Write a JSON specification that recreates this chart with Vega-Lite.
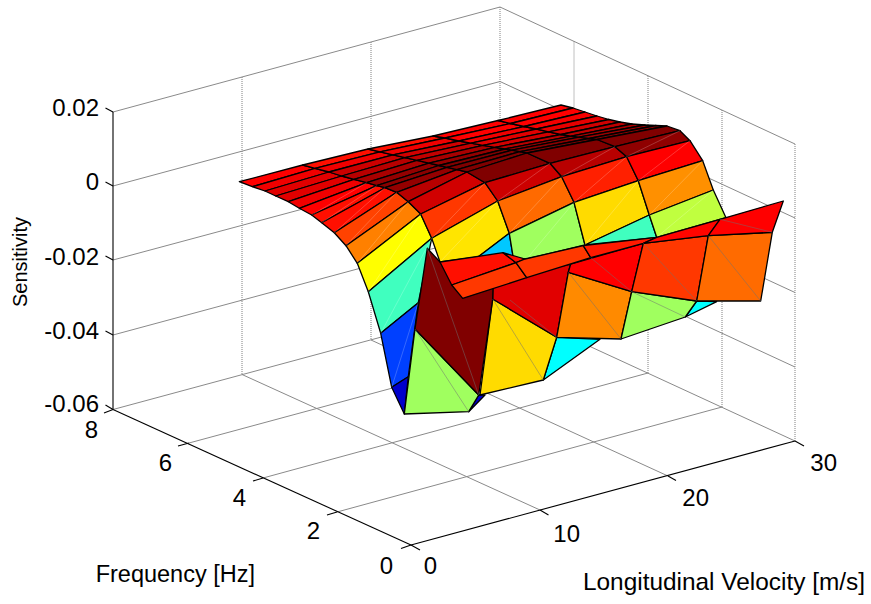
{"$schema":"https://vega.github.io/schema/vega-lite/v6.json","width":871,"height":604,"padding":0,"autosize":{"type":"fit","contains":"padding"},"config":{"view":{"stroke":null},"font":"Liberation Sans"},
"datasets":{
"wallGrid":[{"x":113,"y":112,"x2":500,"y2":7},{"x":113,"y":186,"x2":500,"y2":81.5},{"x":113,"y":260,"x2":500,"y2":156},{"x":113,"y":335,"x2":500,"y2":230.5},{"x":113,"y":409.5,"x2":500,"y2":305},{"x":500,"y":7,"x2":795,"y2":144},{"x":500,"y":81.5,"x2":795,"y2":218},{"x":500,"y":156,"x2":795,"y2":292.5},{"x":500,"y":230.5,"x2":795,"y2":367},{"x":500,"y":305,"x2":795,"y2":441},{"x":189,"y":443,"x2":574,"y2":339},{"x":263,"y":478,"x2":648,"y2":373},{"x":337,"y":512,"x2":722,"y2":407},{"x":242,"y":374.5,"x2":540,"y2":510},{"x":371,"y":340,"x2":668,"y2":476}],
"verticals":[{"x":242,"y":77,"x2":242,"y2":374.5},{"x":371,"y":42,"x2":371,"y2":340},{"x":500,"y":7,"x2":500,"y2":305},{"x":574,"y":41.5,"x2":574,"y2":339},{"x":648,"y":76,"x2":648,"y2":373},{"x":722,"y":110,"x2":722,"y2":407},{"x":795,"y":144,"x2":795,"y2":441}],
"axes":[{"x":113,"y":112,"x2":113,"y2":409.5},{"x":113,"y":409.5,"x2":411,"y2":545},{"x":411,"y":545,"x2":795,"y2":441},{"x":113,"y":112,"x2":105.5,"y2":108},{"x":113,"y":186,"x2":105.5,"y2":182},{"x":113,"y":260,"x2":105.5,"y2":256},{"x":113,"y":335,"x2":105.5,"y2":331},{"x":113,"y":409.5,"x2":105.5,"y2":405},{"x":113,"y":409.5,"x2":104,"y2":413},{"x":189,"y":443,"x2":178,"y2":446},{"x":263,"y":478,"x2":253,"y2":481},{"x":337,"y":512,"x2":327,"y2":515},{"x":411,"y":545,"x2":401,"y2":548.5},{"x":411,"y":545,"x2":420,"y2":550},{"x":540,"y":510,"x2":548.5,"y2":515},{"x":668,"y":476,"x2":676,"y2":480.5},{"x":795,"y":441,"x2":804,"y2":446}],
"labels":[{"t":"0.02","x":99,"y":116},{"t":"0","x":99,"y":190},{"t":"-0.02","x":99,"y":264.5},{"t":"-0.04","x":99,"y":339},{"t":"-0.06","x":99,"y":412},{"t":"8","x":98,"y":438},{"t":"6","x":172,"y":471},{"t":"4","x":246,"y":505.5},{"t":"2","x":320,"y":539},{"t":"0","x":393,"y":574},{"t":"0","x":437,"y":574},{"t":"10","x":580,"y":541.5},{"t":"20","x":709,"y":506},{"t":"30","x":837,"y":470.5}],
"ftitle":[{"t":"Frequency [Hz]","x":255,"y":582}],
"vtitle":[{"t":"Longitudinal Velocity [m/s]","x":865,"y":590}],
"ztitle":[{"t":"Sensitivity","x":27,"y":262}],
"backCells":[
{"c":1,"k":0,"x":239.3,"y":181.7,"l":0.875},{"c":1,"k":1,"x":302.7,"y":165,"l":0.875},{"c":1,"k":2,"x":315,"y":168.3,"l":0.875},{"c":1,"k":3,"x":252.3,"y":186.7,"l":0.875},
{"c":2,"k":0,"x":252.3,"y":186.7,"l":0.89},{"c":2,"k":1,"x":315,"y":168.3,"l":0.89},{"c":2,"k":2,"x":329,"y":172,"l":0.89},{"c":2,"k":3,"x":265,"y":191,"l":0.89},
{"c":3,"k":0,"x":265,"y":191,"l":0.905},{"c":3,"k":1,"x":329,"y":172,"l":0.905},{"c":3,"k":2,"x":341.7,"y":176,"l":0.905},{"c":3,"k":3,"x":275.7,"y":196,"l":0.905},
{"c":4,"k":0,"x":275.7,"y":196,"l":0.905},{"c":4,"k":1,"x":341.7,"y":176,"l":0.905},{"c":4,"k":2,"x":354,"y":179.3,"l":0.905},{"c":4,"k":3,"x":288.3,"y":201.7,"l":0.905},
{"c":5,"k":0,"x":288.3,"y":201.7,"l":0.89},{"c":5,"k":1,"x":354,"y":179.3,"l":0.89},{"c":5,"k":2,"x":366.7,"y":182.7,"l":0.89},{"c":5,"k":3,"x":299.3,"y":208.3,"l":0.89},
{"c":6,"k":0,"x":299.3,"y":208.3,"l":0.875},{"c":6,"k":1,"x":366.7,"y":182.7,"l":0.875},{"c":6,"k":2,"x":376.7,"y":185.7,"l":0.875},{"c":6,"k":3,"x":311.7,"y":215,"l":0.875},
{"c":7,"k":0,"x":311.7,"y":215,"l":0.86},{"c":7,"k":1,"x":376.7,"y":185.7,"l":0.86},{"c":7,"k":2,"x":385,"y":187.7,"l":0.86},{"c":7,"k":3,"x":321.7,"y":222.7,"l":0.86},
{"c":8,"k":0,"x":321.7,"y":222.7,"l":0.86},{"c":8,"k":1,"x":385,"y":187.7,"l":0.86},{"c":8,"k":2,"x":396.7,"y":192.3,"l":0.86},{"c":8,"k":3,"x":334.3,"y":232.7,"l":0.86},
{"c":9,"k":0,"x":334.3,"y":232.7,"l":0.81},{"c":9,"k":1,"x":396.7,"y":192.3,"l":0.81},{"c":9,"k":2,"x":408.3,"y":201.7,"l":0.81},{"c":9,"k":3,"x":346,"y":245.7,"l":0.81},
{"c":10,"k":0,"x":346,"y":245.7,"l":0.75},{"c":10,"k":1,"x":408.3,"y":201.7,"l":0.75},{"c":10,"k":2,"x":420.7,"y":214,"l":0.75},{"c":10,"k":3,"x":357.3,"y":263.3,"l":0.75},
{"c":11,"k":0,"x":357.3,"y":263.3,"l":0.625},{"c":11,"k":1,"x":420.7,"y":214,"l":0.625},{"c":11,"k":2,"x":431.7,"y":238.3,"l":0.625},{"c":11,"k":3,"x":368.3,"y":291.7,"l":0.625},
{"c":12,"k":0,"x":368.3,"y":291.7,"l":0.438},{"c":12,"k":1,"x":431.7,"y":238.3,"l":0.438},{"c":12,"k":2,"x":418.3,"y":302.7,"l":0.438},{"c":12,"k":3,"x":380.7,"y":333.3,"l":0.438},
{"c":13,"k":0,"x":380.7,"y":333.3,"l":0.188},{"c":13,"k":1,"x":418.3,"y":302.7,"l":0.188},{"c":13,"k":2,"x":408.3,"y":376.7,"l":0.188},{"c":13,"k":3,"x":391.7,"y":387.3,"l":0.188},
{"c":14,"k":0,"x":391.7,"y":387.3,"l":0.075},{"c":14,"k":1,"x":408.3,"y":376.7,"l":0.075},{"c":14,"k":2,"x":404.3,"y":414,"l":0.075},
{"c":15,"k":0,"x":302.7,"y":165,"l":0.86},{"c":15,"k":1,"x":368,"y":149,"l":0.86},{"c":15,"k":2,"x":380,"y":151.8,"l":0.86},{"c":15,"k":3,"x":315,"y":168.3,"l":0.86},
{"c":16,"k":0,"x":315,"y":168.3,"l":0.89},{"c":16,"k":1,"x":380,"y":151.8,"l":0.89},{"c":16,"k":2,"x":393,"y":154.8,"l":0.89},{"c":16,"k":3,"x":329,"y":172,"l":0.89},
{"c":17,"k":0,"x":329,"y":172,"l":0.925},{"c":17,"k":1,"x":393,"y":154.8,"l":0.925},{"c":17,"k":2,"x":405,"y":157.6,"l":0.925},{"c":17,"k":3,"x":341.7,"y":176,"l":0.925},
{"c":18,"k":0,"x":341.7,"y":176,"l":0.945},{"c":18,"k":1,"x":405,"y":157.6,"l":0.945},{"c":18,"k":2,"x":417,"y":160.4,"l":0.945},{"c":18,"k":3,"x":354,"y":179.3,"l":0.945},
{"c":19,"k":0,"x":354,"y":179.3,"l":0.96},{"c":19,"k":1,"x":417,"y":160.4,"l":0.96},{"c":19,"k":2,"x":429,"y":163.2,"l":0.96},{"c":19,"k":3,"x":366.7,"y":182.7,"l":0.96},
{"c":20,"k":0,"x":366.7,"y":182.7,"l":0.98},{"c":20,"k":1,"x":429,"y":163.2,"l":0.98},{"c":20,"k":2,"x":439,"y":165.5,"l":0.98},{"c":20,"k":3,"x":376.7,"y":185.7,"l":0.98},
{"c":21,"k":0,"x":376.7,"y":185.7,"l":0.99},{"c":21,"k":1,"x":439,"y":165.5,"l":0.99},{"c":21,"k":2,"x":447,"y":167.3,"l":0.99},{"c":21,"k":3,"x":385,"y":187.7,"l":0.99},
{"c":22,"k":0,"x":385,"y":187.7,"l":0.98},{"c":22,"k":1,"x":447,"y":167.3,"l":0.98},{"c":22,"k":2,"x":457,"y":169.7,"l":0.98},{"c":22,"k":3,"x":396.7,"y":192.3,"l":0.98},
{"c":23,"k":0,"x":396.7,"y":192.3,"l":0.945},{"c":23,"k":1,"x":457,"y":169.7,"l":0.945},{"c":23,"k":2,"x":467,"y":172,"l":0.945},{"c":23,"k":3,"x":408.3,"y":201.7,"l":0.945},
{"c":24,"k":0,"x":408.3,"y":201.7,"l":0.92},{"c":24,"k":1,"x":467,"y":172,"l":0.92},{"c":24,"k":2,"x":485,"y":182.7,"l":0.92},{"c":24,"k":3,"x":420.7,"y":214,"l":0.92},
{"c":25,"k":0,"x":420.7,"y":214,"l":0.82},{"c":25,"k":1,"x":485,"y":182.7,"l":0.82},{"c":25,"k":2,"x":497.7,"y":201,"l":0.82},{"c":25,"k":3,"x":431.7,"y":238.3,"l":0.82},
{"c":26,"k":0,"x":431.7,"y":238.3,"l":0.65},{"c":26,"k":1,"x":497.7,"y":201,"l":0.65},{"c":26,"k":2,"x":509.3,"y":233.3,"l":0.65},{"c":26,"k":3,"x":478,"y":257,"l":0.65},{"c":26,"k":4,"x":440,"y":262,"l":0.65},
{"c":27,"k":0,"x":478,"y":257,"l":0.321},{"c":27,"k":1,"x":509.3,"y":233.3,"l":0.321},{"c":27,"k":2,"x":513.3,"y":258,"l":0.321},
{"c":28,"k":0,"x":368,"y":149,"l":0.86},{"c":28,"k":1,"x":433,"y":136,"l":0.86},{"c":28,"k":2,"x":445,"y":138,"l":0.86},{"c":28,"k":3,"x":380,"y":151.8,"l":0.86},
{"c":29,"k":0,"x":380,"y":151.8,"l":0.89},{"c":29,"k":1,"x":445,"y":138,"l":0.89},{"c":29,"k":2,"x":459,"y":141,"l":0.89},{"c":29,"k":3,"x":393,"y":154.8,"l":0.89},
{"c":30,"k":0,"x":393,"y":154.8,"l":0.92},{"c":30,"k":1,"x":459,"y":141,"l":0.92},{"c":30,"k":2,"x":471,"y":143.2,"l":0.92},{"c":30,"k":3,"x":405,"y":157.6,"l":0.92},
{"c":31,"k":0,"x":405,"y":157.6,"l":0.935},{"c":31,"k":1,"x":471,"y":143.2,"l":0.935},{"c":31,"k":2,"x":483,"y":145.4,"l":0.935},{"c":31,"k":3,"x":417,"y":160.4,"l":0.935},
{"c":32,"k":0,"x":417,"y":160.4,"l":0.96},{"c":32,"k":1,"x":483,"y":145.4,"l":0.96},{"c":32,"k":2,"x":495,"y":147.3,"l":0.96},{"c":32,"k":3,"x":429,"y":163.2,"l":0.96},
{"c":33,"k":0,"x":429,"y":163.2,"l":0.98},{"c":33,"k":1,"x":495,"y":147.3,"l":0.98},{"c":33,"k":2,"x":505,"y":149,"l":0.98},{"c":33,"k":3,"x":439,"y":165.5,"l":0.98},
{"c":34,"k":0,"x":439,"y":165.5,"l":1},{"c":34,"k":1,"x":505,"y":149,"l":1},{"c":34,"k":2,"x":512,"y":150.2,"l":1},{"c":34,"k":3,"x":447,"y":167.3,"l":1},
{"c":35,"k":0,"x":447,"y":167.3,"l":1},{"c":35,"k":1,"x":512,"y":150.2,"l":1},{"c":35,"k":2,"x":520,"y":151.6,"l":1},{"c":35,"k":3,"x":457,"y":169.7,"l":1},
{"c":36,"k":0,"x":457,"y":169.7,"l":1},{"c":36,"k":1,"x":520,"y":151.6,"l":1},{"c":36,"k":2,"x":527,"y":153,"l":1},{"c":36,"k":3,"x":467,"y":172,"l":1},
{"c":37,"k":0,"x":467,"y":172,"l":1},{"c":37,"k":1,"x":527,"y":153,"l":1},{"c":37,"k":2,"x":550,"y":163.3,"l":1},{"c":37,"k":3,"x":485,"y":182.7,"l":1},
{"c":38,"k":0,"x":485,"y":182.7,"l":0.925},{"c":38,"k":1,"x":550,"y":163.3,"l":0.925},{"c":38,"k":2,"x":561.7,"y":176.7,"l":0.925},{"c":38,"k":3,"x":497.7,"y":201,"l":0.925},
{"c":39,"k":0,"x":497.7,"y":201,"l":0.771},{"c":39,"k":1,"x":561.7,"y":176.7,"l":0.771},{"c":39,"k":2,"x":574,"y":202.3,"l":0.771},{"c":39,"k":3,"x":509.3,"y":233.3,"l":0.771},
{"c":40,"k":0,"x":509.3,"y":233.3,"l":0.532},{"c":40,"k":1,"x":574,"y":202.3,"l":0.532},{"c":40,"k":2,"x":585,"y":245,"l":0.532},{"c":40,"k":3,"x":526.7,"y":259,"l":0.532},{"c":40,"k":4,"x":513.3,"y":258,"l":0.532},
{"c":41,"k":0,"x":433,"y":136,"l":0.875},{"c":41,"k":1,"x":498,"y":120.5,"l":0.875},{"c":41,"k":2,"x":510.5,"y":123.5,"l":0.875},{"c":41,"k":3,"x":445,"y":138,"l":0.875},
{"c":42,"k":0,"x":445,"y":138,"l":0.875},{"c":42,"k":1,"x":510.5,"y":123.5,"l":0.875},{"c":42,"k":2,"x":524,"y":126.5,"l":0.875},{"c":42,"k":3,"x":459,"y":141,"l":0.875},
{"c":43,"k":0,"x":459,"y":141,"l":0.89},{"c":43,"k":1,"x":524,"y":126.5,"l":0.89},{"c":43,"k":2,"x":536.5,"y":129,"l":0.89},{"c":43,"k":3,"x":471,"y":143.2,"l":0.89},
{"c":44,"k":0,"x":471,"y":143.2,"l":0.905},{"c":44,"k":1,"x":536.5,"y":129,"l":0.905},{"c":44,"k":2,"x":548.5,"y":131.8,"l":0.905},{"c":44,"k":3,"x":483,"y":145.4,"l":0.905},
{"c":45,"k":0,"x":483,"y":145.4,"l":0.92},{"c":45,"k":1,"x":548.5,"y":131.8,"l":0.92},{"c":45,"k":2,"x":561,"y":134.5,"l":0.92},{"c":45,"k":3,"x":495,"y":147.3,"l":0.92},
{"c":46,"k":0,"x":495,"y":147.3,"l":0.945},{"c":46,"k":1,"x":561,"y":134.5,"l":0.945},{"c":46,"k":2,"x":571,"y":136.2,"l":0.945},{"c":46,"k":3,"x":505,"y":149,"l":0.945},
{"c":47,"k":0,"x":505,"y":149,"l":0.98},{"c":47,"k":1,"x":571,"y":136.2,"l":0.98},{"c":47,"k":2,"x":579,"y":137.2,"l":0.98},{"c":47,"k":3,"x":512,"y":150.2,"l":0.98},
{"c":48,"k":0,"x":512,"y":150.2,"l":0.99},{"c":48,"k":1,"x":579,"y":137.2,"l":0.99},{"c":48,"k":2,"x":589,"y":138.5,"l":0.99},{"c":48,"k":3,"x":520,"y":151.6,"l":0.99},
{"c":49,"k":0,"x":520,"y":151.6,"l":1},{"c":49,"k":1,"x":589,"y":138.5,"l":1},{"c":49,"k":2,"x":597,"y":139.5,"l":1},{"c":49,"k":3,"x":527,"y":153,"l":1},
{"c":50,"k":0,"x":527,"y":153,"l":1},{"c":50,"k":1,"x":597,"y":139.5,"l":1},{"c":50,"k":2,"x":615,"y":146.7,"l":1},{"c":50,"k":3,"x":550,"y":163.3,"l":1},
{"c":51,"k":0,"x":550,"y":163.3,"l":0.945},{"c":51,"k":1,"x":615,"y":146.7,"l":0.945},{"c":51,"k":2,"x":626.7,"y":156.7,"l":0.945},{"c":51,"k":3,"x":561.7,"y":176.7,"l":0.945},
{"c":52,"k":0,"x":561.7,"y":176.7,"l":0.844},{"c":52,"k":1,"x":626.7,"y":156.7,"l":0.844},{"c":52,"k":2,"x":638.3,"y":180.7,"l":0.844},{"c":52,"k":3,"x":574,"y":202.3,"l":0.844},
{"c":53,"k":0,"x":574,"y":202.3,"l":0.66},{"c":53,"k":1,"x":638.3,"y":180.7,"l":0.66},{"c":53,"k":2,"x":649.3,"y":215,"l":0.66},{"c":53,"k":3,"x":585,"y":245,"l":0.66},
{"c":54,"k":0,"x":585,"y":245,"l":0.438},{"c":54,"k":1,"x":649.3,"y":215,"l":0.438},{"c":54,"k":2,"x":656.7,"y":237.3,"l":0.438},
{"c":55,"k":0,"x":498,"y":120.5,"l":0.875},{"c":55,"k":1,"x":561,"y":105,"l":0.875},{"c":55,"k":2,"x":573,"y":108,"l":0.875},{"c":55,"k":3,"x":510.5,"y":123.5,"l":0.875},
{"c":56,"k":0,"x":510.5,"y":123.5,"l":0.875},{"c":56,"k":1,"x":573,"y":108,"l":0.875},{"c":56,"k":2,"x":585,"y":112,"l":0.875},{"c":56,"k":3,"x":524,"y":126.5,"l":0.875},
{"c":57,"k":0,"x":524,"y":126.5,"l":0.885},{"c":57,"k":1,"x":585,"y":112,"l":0.885},{"c":57,"k":2,"x":597,"y":116,"l":0.885},{"c":57,"k":3,"x":536.5,"y":129,"l":0.885},
{"c":58,"k":0,"x":536.5,"y":129,"l":0.9},{"c":58,"k":1,"x":597,"y":116,"l":0.9},{"c":58,"k":2,"x":609,"y":119.5,"l":0.9},{"c":58,"k":3,"x":548.5,"y":131.8,"l":0.9},
{"c":59,"k":0,"x":548.5,"y":131.8,"l":0.92},{"c":59,"k":1,"x":609,"y":119.5,"l":0.92},{"c":59,"k":2,"x":620,"y":122,"l":0.92},{"c":59,"k":3,"x":561,"y":134.5,"l":0.92},
{"c":60,"k":0,"x":561,"y":134.5,"l":0.94},{"c":60,"k":1,"x":620,"y":122,"l":0.94},{"c":60,"k":2,"x":632,"y":124,"l":0.94},{"c":60,"k":3,"x":571,"y":136.2,"l":0.94},
{"c":61,"k":0,"x":571,"y":136.2,"l":0.96},{"c":61,"k":1,"x":632,"y":124,"l":0.96},{"c":61,"k":2,"x":645,"y":125,"l":0.96},{"c":61,"k":3,"x":579,"y":137.2,"l":0.96},
{"c":62,"k":0,"x":579,"y":137.2,"l":0.97},{"c":62,"k":1,"x":645,"y":125,"l":0.97},{"c":62,"k":2,"x":656,"y":125.5,"l":0.97},{"c":62,"k":3,"x":589,"y":138.5,"l":0.97},
{"c":63,"k":0,"x":589,"y":138.5,"l":0.985},{"c":63,"k":1,"x":656,"y":125.5,"l":0.985},{"c":63,"k":2,"x":667,"y":126,"l":0.985},{"c":63,"k":3,"x":597,"y":139.5,"l":0.985},
{"c":64,"k":0,"x":597,"y":139.5,"l":1},{"c":64,"k":1,"x":667,"y":126,"l":1},{"c":64,"k":2,"x":680,"y":130.7,"l":1},{"c":64,"k":3,"x":615,"y":146.7,"l":1},
{"c":65,"k":0,"x":615,"y":146.7,"l":0.985},{"c":65,"k":1,"x":680,"y":130.7,"l":0.985},{"c":65,"k":2,"x":690,"y":140.7,"l":0.985},{"c":65,"k":3,"x":626.7,"y":156.7,"l":0.985},
{"c":66,"k":0,"x":626.7,"y":156.7,"l":0.875},{"c":66,"k":1,"x":690,"y":140.7,"l":0.875},{"c":66,"k":2,"x":702.7,"y":160.7,"l":0.875},{"c":66,"k":3,"x":638.3,"y":180.7,"l":0.875},
{"c":67,"k":0,"x":638.3,"y":180.7,"l":0.734},{"c":67,"k":1,"x":702.7,"y":160.7,"l":0.734},{"c":67,"k":2,"x":713.3,"y":190,"l":0.734},{"c":67,"k":3,"x":649.3,"y":215,"l":0.734},
{"c":68,"k":0,"x":649.3,"y":215,"l":0.563},{"c":68,"k":1,"x":713.3,"y":190,"l":0.563},{"c":68,"k":2,"x":726,"y":217.7,"l":0.563},{"c":68,"k":3,"x":656.7,"y":237.3,"l":0.563}],
"backDiagonals":[{"x":357.3,"y":263.3,"x2":408.3,"y2":201.7},{"x":368.3,"y":291.7,"x2":420.7,"y2":214},{"x":380.7,"y":333.3,"x2":431.7,"y2":238.3},{"x":391.7,"y":387.3,"x2":418.3,"y2":302.7},{"x":346,"y":245.7,"x2":396.7,"y2":192.3},{"x":334.3,"y":232.7,"x2":385,"y2":187.7},{"x":321.7,"y":222.7,"x2":376.7,"y2":185.7},{"x":311.7,"y":215,"x2":366.7,"y2":182.7},{"x":431.7,"y":238.3,"x2":485,"y2":182.7},{"x":440,"y":262,"x2":497.7,"y2":201},{"x":509.3,"y":233.3,"x2":561.7,"y2":176.7},{"x":526.7,"y":259,"x2":574,"y2":202.3},{"x":497.7,"y":201,"x2":550,"y2":163.3},{"x":574,"y":202.3,"x2":626.7,"y2":156.7},{"x":585,"y":245,"x2":638.3,"y2":180.7},{"x":561.7,"y":176.7,"x2":615,"y2":146.7},{"x":638.3,"y":180.7,"x2":690,"y2":140.7},{"x":649.3,"y":215,"x2":702.7,"y2":160.7},{"x":656.7,"y":237.3,"x2":713.3,"y2":190},{"x":626.7,"y":156.7,"x2":680,"y2":130.7}],
"frontCells":[
{"c":101,"k":0,"x":468.7,"y":411.7,"l":0.075},{"c":101,"k":1,"x":478.7,"y":395,"l":0.075},{"c":101,"k":2,"x":485,"y":395,"l":0.075},
{"c":102,"k":0,"x":543.3,"y":380,"l":0.375},{"c":102,"k":1,"x":556.7,"y":337.3,"l":0.375},{"c":102,"k":2,"x":600,"y":339.3,"l":0.375},
{"c":103,"k":0,"x":685.3,"y":317,"l":0.375},{"c":103,"k":1,"x":696.7,"y":301,"l":0.375},{"c":103,"k":2,"x":716.7,"y":301.7,"l":0.375},
{"c":104,"k":0,"x":415,"y":329,"l":0.532},{"c":104,"k":1,"x":478.7,"y":395,"l":0.532},{"c":104,"k":2,"x":468.7,"y":411.7,"l":0.532},{"c":104,"k":3,"x":404.3,"y":414,"l":0.532},
{"c":105,"k":0,"x":492.7,"y":299,"l":0.66},{"c":105,"k":1,"x":556.7,"y":337.3,"l":0.66},{"c":105,"k":2,"x":543.3,"y":380,"l":0.66},{"c":105,"k":3,"x":480,"y":395,"l":0.66},
{"c":106,"k":0,"x":493,"y":282,"l":0.905},{"c":106,"k":1,"x":570.7,"y":264,"l":0.905},{"c":106,"k":2,"x":568.3,"y":272.3,"l":0.905},{"c":106,"k":3,"x":556.7,"y":337.3,"l":0.905},{"c":106,"k":4,"x":492.7,"y":299,"l":0.905},
{"c":107,"k":0,"x":427.3,"y":248.3,"l":1},{"c":107,"k":1,"x":415,"y":329,"l":1},{"c":107,"k":2,"x":478.7,"y":395,"l":1},{"c":107,"k":3,"x":492.7,"y":299,"l":1},{"c":107,"k":4,"x":493,"y":288,"l":1},{"c":107,"k":5,"x":440,"y":262,"l":1},
{"c":108,"k":0,"x":568.3,"y":272.3,"l":0.74},{"c":108,"k":1,"x":631.7,"y":291.7,"l":0.74},{"c":108,"k":2,"x":621,"y":339,"l":0.74},{"c":108,"k":3,"x":556.7,"y":337.3,"l":0.74},
{"c":109,"k":0,"x":631.7,"y":291.7,"l":0.532},{"c":109,"k":1,"x":696.7,"y":301,"l":0.532},{"c":109,"k":2,"x":685.3,"y":317,"l":0.532},{"c":109,"k":3,"x":621,"y":339,"l":0.532},
{"c":110,"k":0,"x":570.7,"y":264,"l":0.875},{"c":110,"k":1,"x":643.3,"y":243.3,"l":0.875},{"c":110,"k":2,"x":631.7,"y":291.7,"l":0.875},{"c":110,"k":3,"x":568.3,"y":272.3,"l":0.875},
{"c":111,"k":0,"x":643.3,"y":243.3,"l":0.82},{"c":111,"k":1,"x":708.3,"y":235.7,"l":0.82},{"c":111,"k":2,"x":696.7,"y":301,"l":0.82},{"c":111,"k":3,"x":631.7,"y":291.7,"l":0.82},
{"c":112,"k":0,"x":708.3,"y":235.7,"l":0.77},{"c":112,"k":1,"x":772.3,"y":232.3,"l":0.77},{"c":112,"k":2,"x":760.7,"y":301,"l":0.77},{"c":112,"k":3,"x":696.7,"y":301,"l":0.77},
{"c":113,"k":0,"x":440,"y":262,"l":0.86},{"c":113,"k":1,"x":503,"y":252.7,"l":0.86},{"c":113,"k":2,"x":516,"y":262.7,"l":0.86},{"c":113,"k":3,"x":451.7,"y":285,"l":0.86},
{"c":114,"k":0,"x":451.7,"y":285,"l":0.82},{"c":114,"k":1,"x":516,"y":262.7,"l":0.82},{"c":114,"k":2,"x":526.7,"y":277.7,"l":0.82},{"c":114,"k":3,"x":462.7,"y":298.3,"l":0.82},
{"c":115,"k":0,"x":503,"y":252.7,"l":0.86},{"c":115,"k":1,"x":525,"y":259,"l":0.86},{"c":115,"k":2,"x":516,"y":262.7,"l":0.86},
{"c":116,"k":0,"x":516,"y":262.7,"l":0.82},{"c":116,"k":1,"x":525,"y":259,"l":0.82},{"c":116,"k":2,"x":583.3,"y":245.7,"l":0.82},{"c":116,"k":3,"x":590.7,"y":257.7,"l":0.82},{"c":116,"k":4,"x":526.7,"y":277.7,"l":0.82},
{"c":117,"k":0,"x":583.3,"y":245.7,"l":0.85},{"c":117,"k":1,"x":656.7,"y":237.3,"l":0.85},{"c":117,"k":2,"x":643.3,"y":243.3,"l":0.85},{"c":117,"k":3,"x":590.7,"y":257.7,"l":0.85},
{"c":118,"k":0,"x":656.7,"y":237.3,"l":0.87},{"c":118,"k":1,"x":720,"y":219.3,"l":0.87},{"c":118,"k":2,"x":708.3,"y":235.7,"l":0.87},{"c":118,"k":3,"x":643.3,"y":243.3,"l":0.87},
{"c":119,"k":0,"x":720,"y":219.3,"l":0.875},{"c":119,"k":1,"x":783.3,"y":201,"l":0.875},{"c":119,"k":2,"x":772.3,"y":232.3,"l":0.875},{"c":119,"k":3,"x":708.3,"y":235.7,"l":0.875}],
"frontDiagonals":[{"x":415,"y":329,"x2":468.7,"y2":411.7},{"x":427.3,"y":248.3,"x2":478.7,"y2":395},{"x":492.7,"y":299,"x2":543.3,"y2":380},{"x":568.3,"y":272.3,"x2":621,"y2":339},{"x":631.7,"y":291.7,"x2":685.3,"y2":317},{"x":590.7,"y":257.7,"x2":631.7,"y2":291.7},{"x":643.3,"y":243.3,"x2":696.7,"y2":301},{"x":708.3,"y":235.7,"x2":760.7,"y2":301},{"x":720,"y":219.3,"x2":772.3,"y2":232.3},{"x":510,"y":300,"x2":556.7,"y2":337.3}]
},
"encoding":{"x":{"field":"x","type":"quantitative","scale":{"domain":[0,871]},"axis":null},"y":{"field":"y","type":"quantitative","scale":{"domain":[604,0]},"axis":null}},
"layer":[
{"data":{"name":"wallGrid"},"mark":{"type":"rule","stroke":"#8a8a8a","strokeWidth":1},"encoding":{"x2":{"field":"x2"},"y2":{"field":"y2"}}},
{"data":{"name":"verticals"},"mark":{"type":"rule","stroke":"#808080","strokeWidth":1,"strokeDash":[1,1]},"encoding":{"x2":{"field":"x2"},"y2":{"field":"y2"}}},
{"data":{"name":"axes"},"mark":{"type":"rule","stroke":"#000000","strokeWidth":1.1},"encoding":{"x2":{"field":"x2"},"y2":{"field":"y2"}}},
{"data":{"name":"labels"},"mark":{"type":"text","align":"right","baseline":"alphabetic","fontSize":24,"font":"Liberation Sans","fill":"#000000"},"encoding":{"text":{"field":"t"}}},
{"data":{"name":"ftitle"},"mark":{"type":"text","align":"right","baseline":"alphabetic","fontSize":23.5,"font":"Liberation Sans","fill":"#000000"},"encoding":{"text":{"field":"t"}}},
{"data":{"name":"vtitle"},"mark":{"type":"text","align":"right","baseline":"alphabetic","fontSize":24.4,"font":"Liberation Sans","fill":"#000000"},"encoding":{"text":{"field":"t"}}},
{"data":{"name":"ztitle"},"mark":{"type":"text","align":"center","baseline":"alphabetic","angle":270,"fontSize":20,"font":"Liberation Sans","fill":"#000000"},"encoding":{"text":{"field":"t"}}},
{"data":{"name":"backCells"},"mark":{"type":"line","interpolate":"linear-closed","stroke":"#000000","strokeWidth":1.3,"strokeJoin":"round"},"encoding":{"order":{"field":"k"},"detail":{"field":"c"},"fill":{"field":"l","type":"quantitative","legend":null,"scale":{"interpolate":"rgb","domain":[0,0.125,0.375,0.625,0.875,1],"range":["#000080","#0000ff","#00ffff","#ffff00","#ff0000","#800000"]}}}},
{"data":{"name":"backDiagonals"},"mark":{"type":"rule","stroke":"#ffffff","strokeWidth":0.6,"opacity":0.35},"encoding":{"x2":{"field":"x2"},"y2":{"field":"y2"}}},
{"data":{"name":"frontCells"},"mark":{"type":"line","interpolate":"linear-closed","stroke":"#000000","strokeWidth":1.3,"strokeJoin":"round"},"encoding":{"order":{"field":"k"},"detail":{"field":"c"},"fill":{"field":"l","type":"quantitative","legend":null,"scale":{"interpolate":"rgb","domain":[0,0.125,0.375,0.625,0.875,1],"range":["#000080","#0000ff","#00ffff","#ffff00","#ff0000","#800000"]}}}},
{"data":{"name":"frontDiagonals"},"mark":{"type":"rule","stroke":"#707070","strokeWidth":0.7,"opacity":0.7},"encoding":{"x2":{"field":"x2"},"y2":{"field":"y2"}}}
]}
